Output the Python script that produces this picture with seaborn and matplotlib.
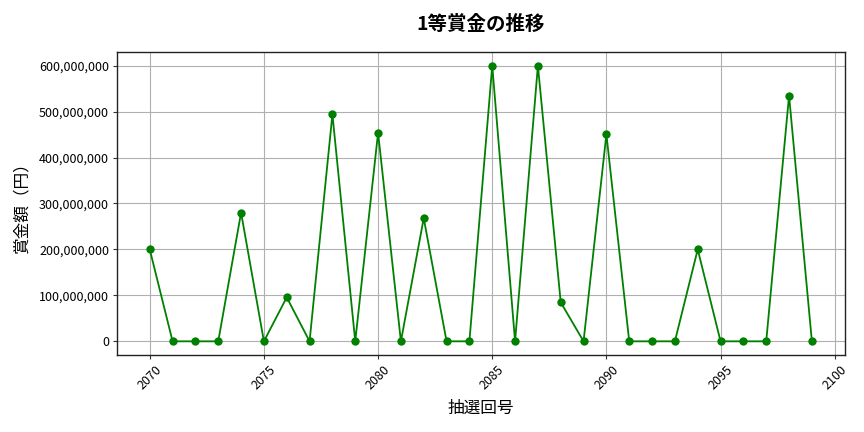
import matplotlib
matplotlib.use("Agg")
import matplotlib.pyplot as plt
import matplotlib.ticker as mticker
import seaborn as sns
import pandas as pd

draw_numbers = list(range(2070, 2100))
prize_yen = [
    200000000, 0, 0, 0, 280000000, 0, 95700000, 0, 494000000, 0,
    454000000, 0, 268000000, 0, 0, 600000000, 0, 600000000, 84800000, 0,
    450700000, 0, 0, 0, 200000000, 0, 0, 0, 534800000, 0,
]

sns.set_style("whitegrid")
plt.rcParams["font.family"] = ["Noto Sans CJK JP", "DejaVu Sans"]
plt.rcParams["text.color"] = "black"
plt.rcParams["axes.labelcolor"] = "black"

df = pd.DataFrame({"draw": draw_numbers, "prize": prize_yen})

fig, ax = plt.subplots(figsize=(8.64, 4.32), dpi=100)
sns.lineplot(data=df, x="draw", y="prize", color="green", marker="o",
             markersize=6, markeredgewidth=0, linewidth=1.3, ax=ax)

ax.set_title("1等賞金の推移", fontsize=14, fontweight="bold", pad=16)
ax.set_xlabel("抽選回号", fontsize=12, labelpad=6)
ax.set_ylabel("賞金額（円）", fontsize=12, labelpad=6)
ax.yaxis.set_major_formatter(mticker.FuncFormatter(lambda v, p: f"{int(v):,}"))
ax.tick_params(axis="x", rotation=45, labelsize=9, length=3, pad=2.5,
               bottom=True, color="#333333", labelcolor="black")
ax.tick_params(axis="y", labelsize=9, length=3, pad=2.5,
               left=True, color="#333333", labelcolor="black")
ax.grid(True, color="#b0b0b0", linewidth=0.8)
for s in ax.spines.values():
    s.set_color("#222222")
    s.set_linewidth(1.0)

fig.subplots_adjust(left=0.135, right=0.978, top=0.88, bottom=0.178)
fig.savefig("out.png", dpi=100)
